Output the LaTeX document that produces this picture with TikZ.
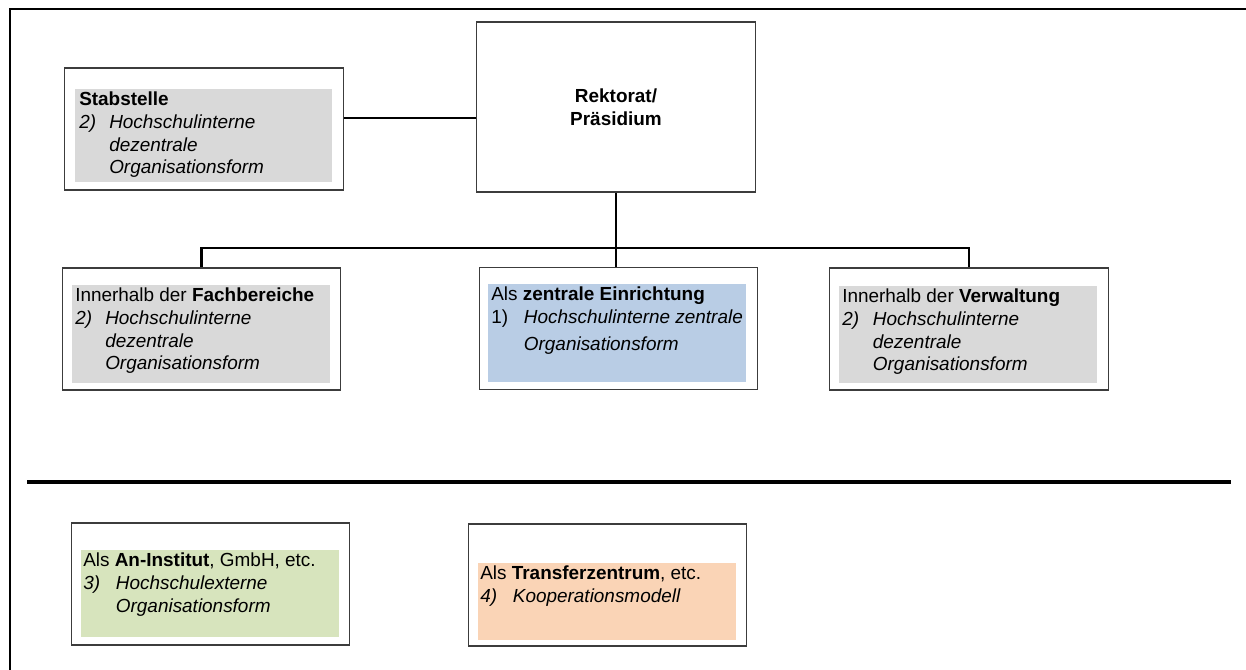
\documentclass[tikz,border=0pt]{standalone}
\usepackage{fontspec}
\setmainfont{Liberation Sans}
\usepackage{tikz}
\usetikzlibrary{positioning}
\definecolor{boxline}{HTML}{3C3C3C}
\definecolor{greyfill}{HTML}{D9D9D9}
\definecolor{bluefill}{HTML}{B9CDE5}
\definecolor{greenfill}{HTML}{D7E4BD}
\definecolor{peachfill}{HTML}{FAD4B6}
\newcommand{\boxfont}{\fontsize{14.2}{16.9}\selectfont}
\newcommand{\nrlab}[2]{\makebox[#1][l]{\itshape #2}}

\begin{document}
\begin{tikzpicture}[x=0.75pt, y=-0.75pt,
  unit/.style = {draw=boxline, line width=0.9pt, fill=white, minimum width=209pt, minimum height=91.5pt, inner sep=0pt},
  txt/.style = {anchor=north west, align=left, inner sep=0pt, font=\boxfont},
  link/.style = {line width=1.6pt}]
\useasboundingbox (0,0) rectangle (1246,670);

% frame and separator
\draw[line width=2pt] (10,670) -- (10,9) -- (1246,9);
\draw[line width=2.4pt] (27,482) -- (1231,482);

% boxes
\node[unit, minimum height=127.5pt, align=center, font=\boxfont\bfseries] (rek) at (616,107) {Rektorat/\\Präsidium};
\node[unit] (stab) at (204,129) {};
\node[unit] (fach) at (201.5,329) {};
\node[unit] (zent) at (618.5,328.5) {};
\node[unit] (verw) at (969,329) {};
\node[unit] (an) at (210.5,584) {};
\node[unit] (trans) at (607.5,585) {};

% coloured backgrounds
\fill[greyfill] (75,89) rectangle (332,182);
\fill[greyfill] (72,285) rectangle (330,383);
\fill[bluefill] (488,284) rectangle (746,382);
\fill[greyfill] (839,286) rectangle (1097,383);
\fill[greenfill] (81,550) rectangle (339,637);
\fill[peachfill] (478,563) rectangle (736,640);

% texts
\node[txt] (stabtxt) at (79,92) {\textbf{Stabstelle}\\
  \nrlab{22.5pt}{2)}\textit{Hochschulinterne}\\
  \hspace*{22.5pt}\textit{dezentrale}\\
  \hspace*{22.5pt}\textit{Organisationsform}};
\node[txt] (fachtxt) at (75,288) {Innerhalb der \textbf{Fachbereiche}\\
  \nrlab{22.5pt}{2)}\textit{Hochschulinterne}\\
  \hspace*{22.5pt}\textit{dezentrale}\\
  \hspace*{22.5pt}\textit{Organisationsform}};
\node[txt] (zenttxt) at (491,287) {Als \textbf{zentrale Einrichtung}\\
  \nrlab{24.5pt}{\upshape 1)}\textit{Hochschulinterne zentrale}\\[3pt]
  \hspace*{24.5pt}\textit{Organisationsform}};
\node[txt] (verwtxt) at (842,289) {Innerhalb der \textbf{Verwaltung}\\
  \nrlab{23pt}{2)}\textit{Hochschulinterne}\\
  \hspace*{23pt}\textit{dezentrale}\\
  \hspace*{23pt}\textit{Organisationsform}};
\node[txt] (antxt) at (83,553) {Als \textbf{An-Institut}, GmbH, etc.\\
  \nrlab{24.5pt}{3)}\textit{Hochschulexterne}\\
  \hspace*{24.5pt}\textit{Organisationsform}};
\node[txt] (transtxt) at (480,566) {Als \textbf{Transferzentrum}, etc.\\
  \nrlab{24.5pt}{4)}\textit{Kooperationsmodell}};

% connectors
\coordinate (staff) at (410,118);
\coordinate (bus) at (616,248);
\draw[link] (stab.east |- staff) -- (rek.west |- staff);
\draw[link] (rek.south) -- (bus);
\draw[link] (fach.north) |- (bus) -| (verw.north);
\draw[link] (bus) -- (bus |- zent.north);
\end{tikzpicture}
\end{document}
